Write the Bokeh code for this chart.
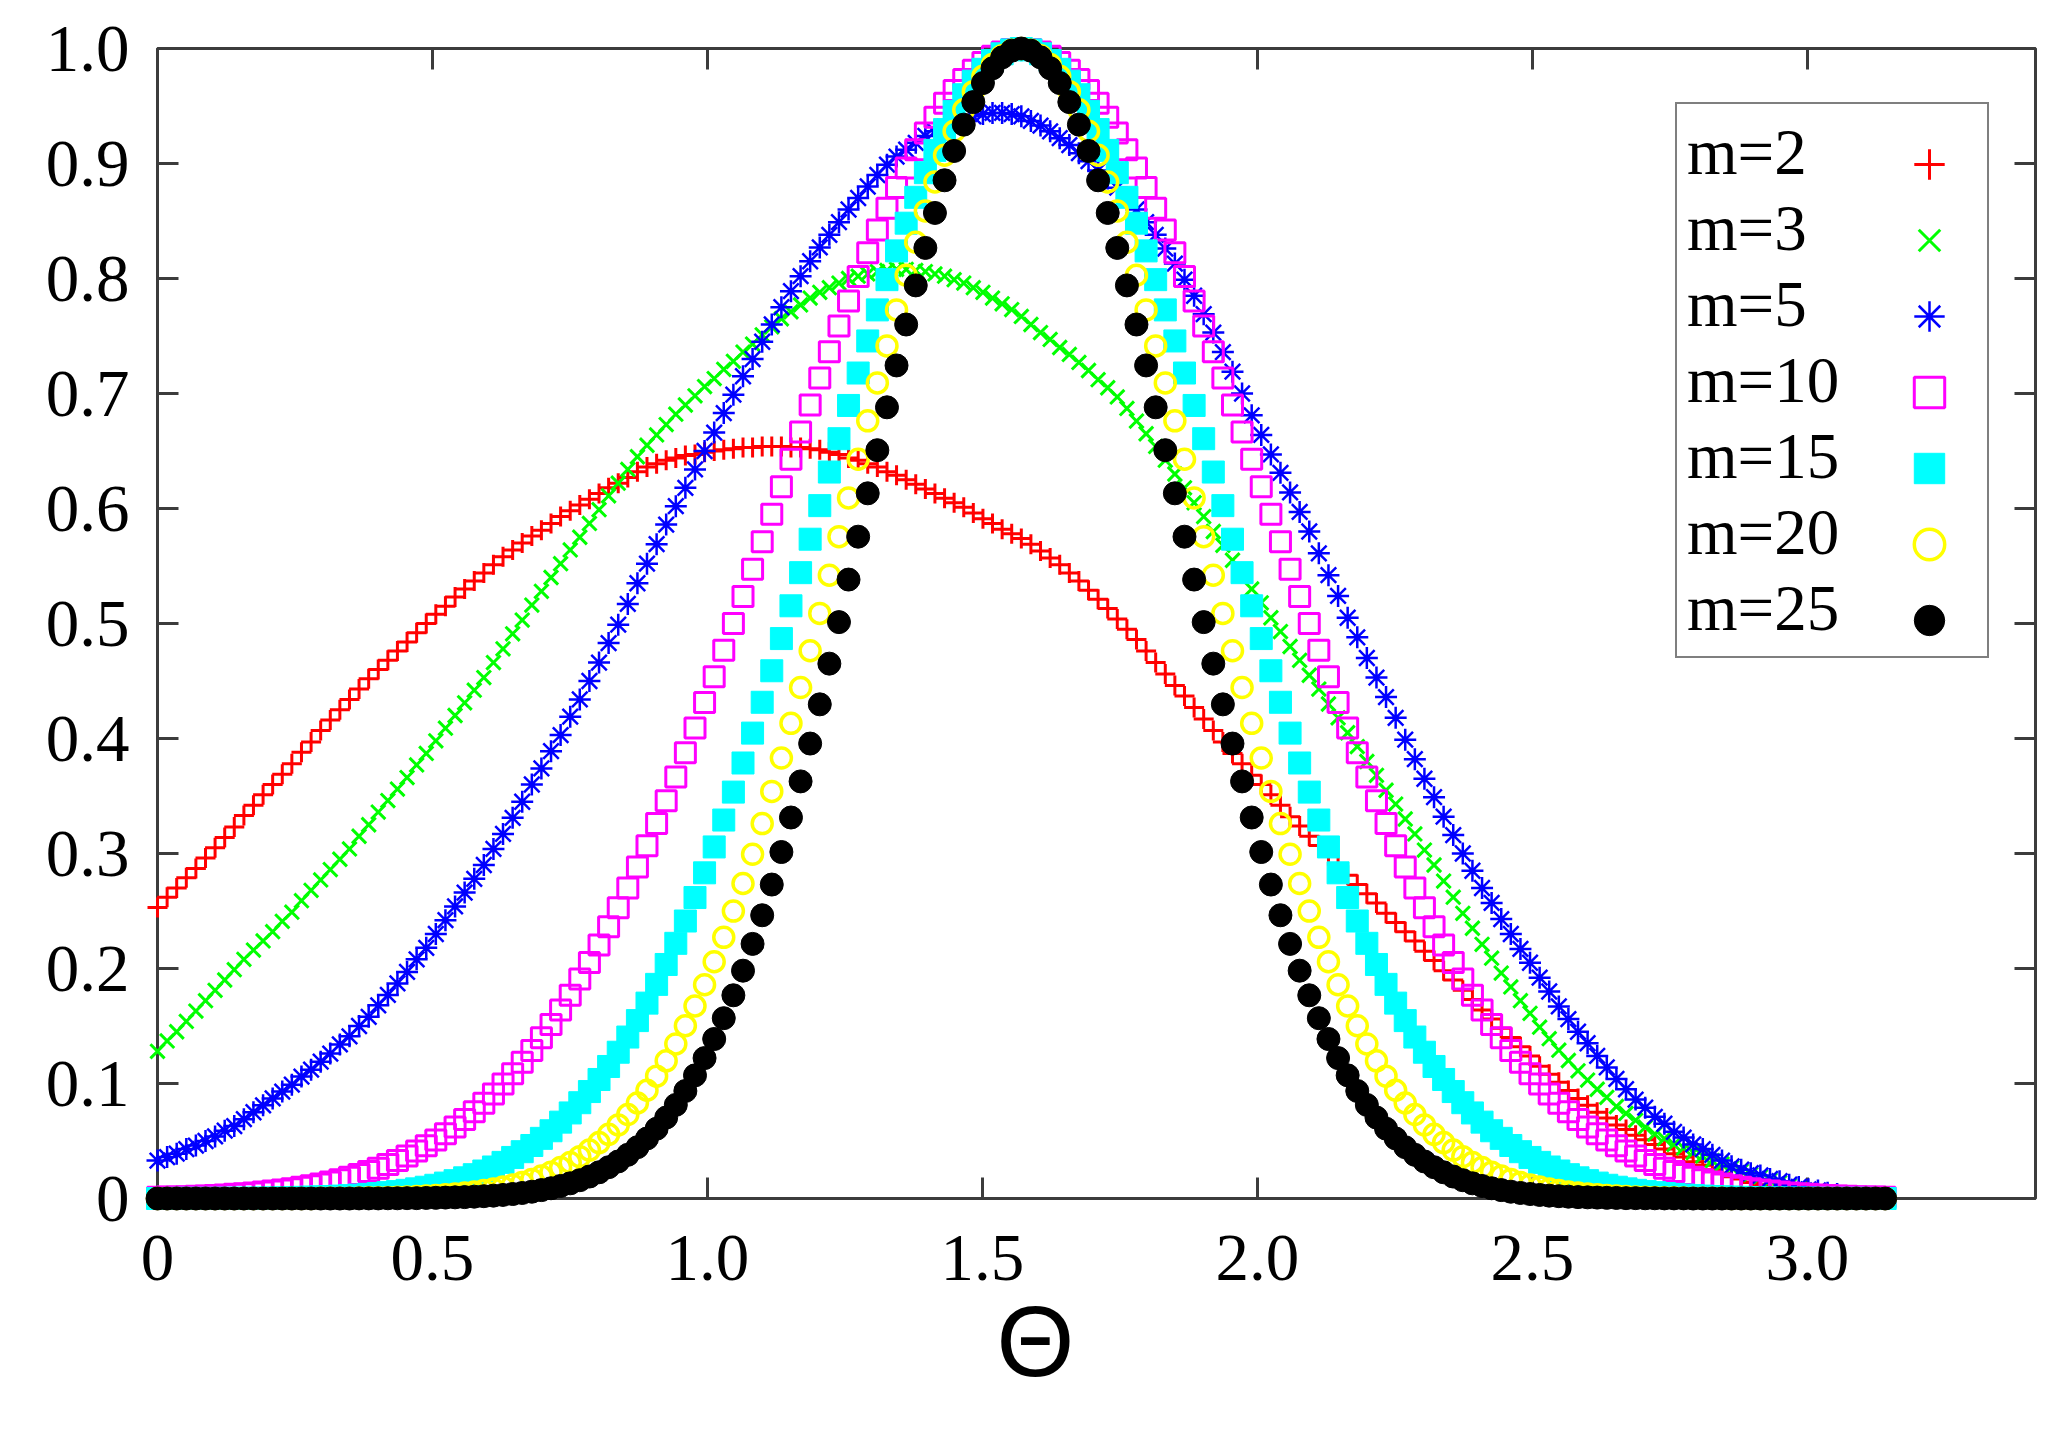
from bokeh.plotting import figure
from bokeh.models import Range1d, LinearAxis, FixedTicker, Legend, LegendItem, Title
from bokeh.embed import file_html
from bokeh.resources import INLINE

# ---------------- data (1 degree steps) ----------------
theta = [
    0.0000, 0.0175, 0.0349, 0.0524, 0.0698, 0.0873, 0.1047, 0.1222, 0.1396, 0.1571,
    0.1745, 0.1920, 0.2094, 0.2269, 0.2443, 0.2618, 0.2793, 0.2967, 0.3142, 0.3316,
    0.3491, 0.3665, 0.3840, 0.4014, 0.4189, 0.4363, 0.4538, 0.4712, 0.4887, 0.5061,
    0.5236, 0.5411, 0.5585, 0.5760, 0.5934, 0.6109, 0.6283, 0.6458, 0.6632, 0.6807,
    0.6981, 0.7156, 0.7330, 0.7505, 0.7679, 0.7854, 0.8029, 0.8203, 0.8378, 0.8552,
    0.8727, 0.8901, 0.9076, 0.9250, 0.9425, 0.9599, 0.9774, 0.9948, 1.0123, 1.0297,
    1.0472, 1.0647, 1.0821, 1.0996, 1.1170, 1.1345, 1.1519, 1.1694, 1.1868, 1.2043,
    1.2217, 1.2392, 1.2566, 1.2741, 1.2915, 1.3090, 1.3265, 1.3439, 1.3614, 1.3788,
    1.3963, 1.4137, 1.4312, 1.4486, 1.4661, 1.4835, 1.5010, 1.5184, 1.5359, 1.5533,
    1.5708, 1.5882, 1.6057, 1.6232, 1.6406, 1.6581, 1.6755, 1.6930, 1.7104, 1.7279,
    1.7453, 1.7628, 1.7802, 1.7977, 1.8151, 1.8326, 1.8500, 1.8675, 1.8850, 1.9024,
    1.9199, 1.9373, 1.9548, 1.9722, 1.9897, 2.0071, 2.0246, 2.0420, 2.0595, 2.0769,
    2.0944, 2.1118, 2.1293, 2.1468, 2.1642, 2.1817, 2.1991, 2.2166, 2.2340, 2.2515,
    2.2689, 2.2864, 2.3038, 2.3213, 2.3387, 2.3562, 2.3736, 2.3911, 2.4086, 2.4260,
    2.4435, 2.4609, 2.4784, 2.4958, 2.5133, 2.5307, 2.5482, 2.5656, 2.5831, 2.6005,
    2.6180, 2.6354, 2.6529, 2.6704, 2.6878, 2.7053, 2.7227, 2.7402, 2.7576, 2.7751,
    2.7925, 2.8100, 2.8274, 2.8449, 2.8623, 2.8798, 2.8972, 2.9147, 2.9322, 2.9496,
    2.9671, 2.9845, 3.0020, 3.0194, 3.0369, 3.0543, 3.0718, 3.0892, 3.1067, 3.1241,
    3.1416,
]

m2 = [
    0.253, 0.262, 0.270, 0.279, 0.287, 0.296, 0.305, 0.314, 0.323, 0.333,
    0.342, 0.351, 0.360, 0.369, 0.378, 0.388, 0.397, 0.407, 0.416, 0.425,
    0.434, 0.443, 0.452, 0.460, 0.468, 0.476, 0.484, 0.492, 0.500, 0.508,
    0.515, 0.523, 0.530, 0.537, 0.544, 0.551, 0.558, 0.564, 0.570, 0.576,
    0.581, 0.587, 0.593, 0.598, 0.603, 0.608, 0.613, 0.618, 0.622, 0.627,
    0.632, 0.636, 0.639, 0.642, 0.644, 0.646, 0.647, 0.649, 0.650, 0.651,
    0.652, 0.653, 0.653, 0.654, 0.654, 0.654, 0.653, 0.653, 0.652, 0.651,
    0.649, 0.647, 0.644, 0.642, 0.639, 0.636, 0.632, 0.629, 0.625, 0.621,
    0.617, 0.613, 0.609, 0.605, 0.601, 0.596, 0.591, 0.587, 0.582, 0.578,
    0.574, 0.569, 0.563, 0.557, 0.551, 0.544, 0.537, 0.529, 0.521, 0.513,
    0.504, 0.495, 0.486, 0.476, 0.466, 0.456, 0.446, 0.437, 0.427, 0.417,
    0.407, 0.397, 0.387, 0.378, 0.368, 0.360, 0.351, 0.342, 0.332, 0.324,
    0.315, 0.307, 0.298, 0.290, 0.281, 0.273, 0.265, 0.257, 0.248, 0.240,
    0.232, 0.224, 0.215, 0.207, 0.198, 0.190, 0.181, 0.173, 0.164, 0.156,
    0.148, 0.140, 0.132, 0.124, 0.115, 0.108, 0.101, 0.094, 0.087, 0.081,
    0.075, 0.070, 0.064, 0.060, 0.055, 0.051, 0.047, 0.043, 0.039, 0.036,
    0.032, 0.029, 0.025, 0.022, 0.019, 0.017, 0.014, 0.012, 0.010, 0.009,
    0.007, 0.006, 0.004, 0.003, 0.002, 0.002, 0.001, 0.001, 0.000, 0.000,
    0.000,
]

m3 = [
    0.128, 0.137, 0.145, 0.154, 0.163, 0.172, 0.181, 0.190, 0.199, 0.208,
    0.216, 0.224, 0.232, 0.241, 0.249, 0.259, 0.268, 0.277, 0.286, 0.295,
    0.304, 0.315, 0.325, 0.336, 0.346, 0.356, 0.366, 0.377, 0.387, 0.398,
    0.409, 0.420, 0.431, 0.442, 0.453, 0.466, 0.478, 0.491, 0.503, 0.516,
    0.528, 0.540, 0.552, 0.564, 0.575, 0.587, 0.599, 0.611, 0.622, 0.634,
    0.645, 0.655, 0.664, 0.673, 0.682, 0.690, 0.698, 0.706, 0.713, 0.721,
    0.728, 0.736, 0.743, 0.751, 0.758, 0.765, 0.771, 0.777, 0.783, 0.788,
    0.792, 0.796, 0.800, 0.802, 0.804, 0.806, 0.807, 0.808, 0.808, 0.807,
    0.806, 0.804, 0.802, 0.799, 0.796, 0.792, 0.788, 0.783, 0.778, 0.773,
    0.767, 0.760, 0.753, 0.747, 0.740, 0.734, 0.727, 0.720, 0.712, 0.705,
    0.697, 0.687, 0.676, 0.665, 0.654, 0.642, 0.630, 0.618, 0.605, 0.593,
    0.580, 0.568, 0.555, 0.543, 0.530, 0.518, 0.505, 0.493, 0.480, 0.468,
    0.455, 0.443, 0.430, 0.418, 0.405, 0.393, 0.380, 0.368, 0.355, 0.343,
    0.330, 0.317, 0.303, 0.290, 0.276, 0.262, 0.248, 0.235, 0.221, 0.209,
    0.196, 0.184, 0.172, 0.161, 0.149, 0.139, 0.129, 0.120, 0.111, 0.103,
    0.095, 0.088, 0.080, 0.074, 0.068, 0.062, 0.056, 0.052, 0.047, 0.044,
    0.040, 0.037, 0.033, 0.030, 0.027, 0.024, 0.021, 0.019, 0.016, 0.014,
    0.011, 0.009, 0.007, 0.006, 0.004, 0.003, 0.002, 0.002, 0.001, 0.001,
    0.000,
]

m5 = [
    0.033, 0.036, 0.039, 0.043, 0.046, 0.050, 0.054, 0.059, 0.063, 0.069,
    0.075, 0.081, 0.087, 0.093, 0.099, 0.106, 0.112, 0.119, 0.126, 0.134,
    0.141, 0.150, 0.158, 0.168, 0.177, 0.187, 0.197, 0.208, 0.218, 0.230,
    0.242, 0.254, 0.266, 0.278, 0.290, 0.304, 0.317, 0.331, 0.345, 0.360,
    0.374, 0.389, 0.403, 0.419, 0.434, 0.450, 0.466, 0.483, 0.499, 0.517,
    0.535, 0.552, 0.569, 0.586, 0.602, 0.618, 0.634, 0.650, 0.666, 0.683,
    0.699, 0.715, 0.730, 0.745, 0.760, 0.775, 0.789, 0.802, 0.815, 0.827,
    0.838, 0.849, 0.860, 0.870, 0.880, 0.890, 0.899, 0.906, 0.912, 0.918,
    0.924, 0.928, 0.932, 0.935, 0.938, 0.941, 0.943, 0.944, 0.944, 0.943,
    0.941, 0.937, 0.933, 0.928, 0.922, 0.916, 0.909, 0.902, 0.894, 0.887,
    0.879, 0.870, 0.860, 0.849, 0.838, 0.826, 0.813, 0.799, 0.785, 0.769,
    0.753, 0.736, 0.719, 0.700, 0.681, 0.664, 0.647, 0.631, 0.614, 0.597,
    0.580, 0.561, 0.542, 0.524, 0.505, 0.488, 0.470, 0.453, 0.436, 0.418,
    0.399, 0.382, 0.365, 0.349, 0.332, 0.316, 0.300, 0.285, 0.270, 0.257,
    0.243, 0.230, 0.217, 0.205, 0.192, 0.180, 0.167, 0.156, 0.145, 0.135,
    0.124, 0.114, 0.104, 0.095, 0.086, 0.079, 0.071, 0.065, 0.058, 0.053,
    0.047, 0.043, 0.038, 0.033, 0.028, 0.025, 0.022, 0.020, 0.017, 0.015,
    0.012, 0.010, 0.008, 0.007, 0.005, 0.004, 0.002, 0.002, 0.001, 0.001,
    0.000,
]

m10 = [
    0.0010, 0.0012, 0.0014, 0.0016, 0.0019, 0.0022, 0.0026, 0.0031, 0.0036, 0.0042,
    0.0048, 0.0056, 0.0065, 0.0074, 0.0085, 0.0097, 0.0111, 0.0127, 0.0144, 0.0163,
    0.0185, 0.0209, 0.0235, 0.0264, 0.0296, 0.0331, 0.0370, 0.0412, 0.0458, 0.0508,
    0.0563, 0.0622, 0.0686, 0.0754, 0.0829, 0.0908, 0.0995, 0.1085, 0.1184, 0.1286,
    0.1398, 0.1514, 0.1639, 0.1768, 0.1908, 0.2052, 0.2204, 0.2362, 0.2529, 0.2701,
    0.2882, 0.3067, 0.3261, 0.3459, 0.3666, 0.3876, 0.4092, 0.4312, 0.4538, 0.4767,
    0.4999, 0.5234, 0.5471, 0.5710, 0.5950, 0.6189, 0.6428, 0.6666, 0.6901, 0.7134,
    0.7362, 0.7587, 0.7805, 0.8018, 0.8223, 0.8421, 0.8611, 0.8791, 0.8960, 0.9119,
    0.9266, 0.9402, 0.9525, 0.9634, 0.9730, 0.9811, 0.9879, 0.9932, 0.9969, 0.9992,
    1.0000,
    0.9992, 0.9969, 0.9932, 0.9879, 0.9811, 0.9730, 0.9634, 0.9525, 0.9402, 0.9266,
    0.9119, 0.8960, 0.8791, 0.8611, 0.8421, 0.8223, 0.8018, 0.7805, 0.7587, 0.7362,
    0.7134, 0.6901, 0.6666, 0.6428, 0.6189, 0.5950, 0.5710, 0.5471, 0.5234, 0.4999,
    0.4767, 0.4538, 0.4312, 0.4092, 0.3876, 0.3666, 0.3459, 0.3261, 0.3067, 0.2882,
    0.2701, 0.2529, 0.2362, 0.2204, 0.2052, 0.1908, 0.1768, 0.1639, 0.1514, 0.1398,
    0.1286, 0.1184, 0.1085, 0.0995, 0.0908, 0.0829, 0.0754, 0.0686, 0.0622, 0.0563,
    0.0508, 0.0458, 0.0412, 0.0370, 0.0331, 0.0296, 0.0264, 0.0235, 0.0209, 0.0185,
    0.0163, 0.0144, 0.0127, 0.0111, 0.0097, 0.0085, 0.0074, 0.0065, 0.0056, 0.0048,
    0.0042, 0.0036, 0.0031, 0.0026, 0.0022, 0.0019, 0.0016, 0.0014, 0.0012, 0.0010,
]

m15 = [
    0.0000, 0.0000, 0.0001, 0.0001, 0.0001, 0.0001, 0.0001, 0.0002, 0.0002, 0.0003,
    0.0003, 0.0004, 0.0005, 0.0006, 0.0008, 0.0010, 0.0012, 0.0014, 0.0017, 0.0021,
    0.0025, 0.0030, 0.0036, 0.0043, 0.0051, 0.0060, 0.0071, 0.0084, 0.0098, 0.0115,
    0.0134, 0.0155, 0.0180, 0.0207, 0.0239, 0.0274, 0.0314, 0.0357, 0.0407, 0.0461,
    0.0523, 0.0589, 0.0664, 0.0744, 0.0833, 0.0930, 0.1035, 0.1148, 0.1272, 0.1404,
    0.1547, 0.1699, 0.1862, 0.2035, 0.2219, 0.2413, 0.2617, 0.2832, 0.3057, 0.3291,
    0.3534, 0.3787, 0.4047, 0.4315, 0.4589, 0.4869, 0.5154, 0.5442, 0.5733, 0.6025,
    0.6317, 0.6607, 0.6896, 0.7178, 0.7457, 0.7727, 0.7990, 0.8240, 0.8481, 0.8706,
    0.8920, 0.9114, 0.9295, 0.9453, 0.9598, 0.9716, 0.9819, 0.9895, 0.9954, 0.9988,
    1.0000,
    0.9988, 0.9954, 0.9895, 0.9819, 0.9716, 0.9598, 0.9453, 0.9295, 0.9114, 0.8920,
    0.8706, 0.8481, 0.8240, 0.7990, 0.7727, 0.7457, 0.7178, 0.6896, 0.6607, 0.6317,
    0.6025, 0.5733, 0.5442, 0.5154, 0.4869, 0.4589, 0.4315, 0.4047, 0.3787, 0.3534,
    0.3291, 0.3057, 0.2832, 0.2617, 0.2413, 0.2219, 0.2035, 0.1862, 0.1699, 0.1547,
    0.1404, 0.1272, 0.1148, 0.1035, 0.0930, 0.0833, 0.0744, 0.0664, 0.0589, 0.0523,
    0.0461, 0.0407, 0.0357, 0.0314, 0.0274, 0.0239, 0.0207, 0.0180, 0.0155, 0.0134,
    0.0115, 0.0098, 0.0084, 0.0071, 0.0060, 0.0051, 0.0043, 0.0036, 0.0030, 0.0025,
    0.0021, 0.0017, 0.0014, 0.0012, 0.0010, 0.0008, 0.0006, 0.0005, 0.0004, 0.0003,
    0.0003, 0.0002, 0.0002, 0.0001, 0.0001, 0.0001, 0.0001, 0.0001, 0.0000, 0.0000,
]

m20 = [
    0.0000, 0.0000, 0.0000, 0.0000, 0.0000, 0.0000, 0.0000, 0.0000, 0.0000, 0.0000,
    0.0000, 0.0000, 0.0000, 0.0001, 0.0001, 0.0001, 0.0001, 0.0002, 0.0002, 0.0003,
    0.0003, 0.0004, 0.0006, 0.0007, 0.0009, 0.0011, 0.0014, 0.0017, 0.0021, 0.0026,
    0.0032, 0.0039, 0.0047, 0.0057, 0.0069, 0.0083, 0.0099, 0.0118, 0.0140, 0.0166,
    0.0195, 0.0229, 0.0269, 0.0313, 0.0364, 0.0421, 0.0486, 0.0558, 0.0640, 0.0730,
    0.0831, 0.0941, 0.1064, 0.1197, 0.1344, 0.1502, 0.1674, 0.1859, 0.2059, 0.2271,
    0.2499, 0.2739, 0.2993, 0.3260, 0.3540, 0.3830, 0.4132, 0.4443, 0.4763, 0.5088,
    0.5420, 0.5755, 0.6092, 0.6428, 0.6762, 0.7092, 0.7414, 0.7727, 0.8028, 0.8315,
    0.8587, 0.8839, 0.9072, 0.9281, 0.9467, 0.9625, 0.9759, 0.9861, 0.9938, 0.9985,
    1.0000,
    0.9985, 0.9938, 0.9861, 0.9759, 0.9625, 0.9467, 0.9281, 0.9072, 0.8839, 0.8587,
    0.8315, 0.8028, 0.7727, 0.7414, 0.7092, 0.6762, 0.6428, 0.6092, 0.5755, 0.5420,
    0.5088, 0.4763, 0.4443, 0.4132, 0.3830, 0.3540, 0.3260, 0.2993, 0.2739, 0.2499,
    0.2271, 0.2059, 0.1859, 0.1674, 0.1502, 0.1344, 0.1197, 0.1064, 0.0941, 0.0831,
    0.0730, 0.0640, 0.0558, 0.0486, 0.0421, 0.0364, 0.0313, 0.0269, 0.0229, 0.0195,
    0.0166, 0.0140, 0.0118, 0.0099, 0.0083, 0.0069, 0.0057, 0.0047, 0.0039, 0.0032,
    0.0026, 0.0021, 0.0017, 0.0014, 0.0011, 0.0009, 0.0007, 0.0006, 0.0004, 0.0003,
    0.0003, 0.0002, 0.0002, 0.0001, 0.0001, 0.0001, 0.0001, 0.0000, 0.0000, 0.0000,
    0.0000, 0.0000, 0.0000, 0.0000, 0.0000, 0.0000, 0.0000, 0.0000, 0.0000, 0.0000,
]

m25 = [
    0.0000, 0.0000, 0.0000, 0.0000, 0.0000, 0.0000, 0.0000, 0.0000, 0.0000, 0.0000,
    0.0000, 0.0000, 0.0000, 0.0000, 0.0000, 0.0000, 0.0000, 0.0000, 0.0000, 0.0000,
    0.0000, 0.0001, 0.0001, 0.0001, 0.0002, 0.0002, 0.0003, 0.0003, 0.0005, 0.0006,
    0.0008, 0.0010, 0.0012, 0.0016, 0.0020, 0.0025, 0.0031, 0.0039, 0.0048, 0.0059,
    0.0073, 0.0089, 0.0109, 0.0132, 0.0159, 0.0191, 0.0228, 0.0272, 0.0322, 0.0380,
    0.0446, 0.0522, 0.0607, 0.0704, 0.0814, 0.0935, 0.1071, 0.1221, 0.1387, 0.1568,
    0.1767, 0.1981, 0.2214, 0.2463, 0.2730, 0.3013, 0.3313, 0.3627, 0.3956, 0.4297,
    0.4651, 0.5012, 0.5382, 0.5755, 0.6132, 0.6507, 0.6880, 0.7244, 0.7600, 0.7940,
    0.8266, 0.8570, 0.8854, 0.9109, 0.9338, 0.9534, 0.9700, 0.9828, 0.9923, 0.9981,
    1.0000,
    0.9981, 0.9923, 0.9828, 0.9700, 0.9534, 0.9338, 0.9109, 0.8854, 0.8570, 0.8266,
    0.7940, 0.7600, 0.7244, 0.6880, 0.6507, 0.6132, 0.5755, 0.5382, 0.5012, 0.4651,
    0.4297, 0.3956, 0.3627, 0.3313, 0.3013, 0.2730, 0.2463, 0.2214, 0.1981, 0.1767,
    0.1568, 0.1387, 0.1221, 0.1071, 0.0935, 0.0814, 0.0704, 0.0607, 0.0522, 0.0446,
    0.0380, 0.0322, 0.0272, 0.0228, 0.0191, 0.0159, 0.0132, 0.0109, 0.0089, 0.0073,
    0.0059, 0.0048, 0.0039, 0.0031, 0.0025, 0.0020, 0.0016, 0.0012, 0.0010, 0.0008,
    0.0006, 0.0005, 0.0003, 0.0003, 0.0002, 0.0002, 0.0001, 0.0001, 0.0001, 0.0000,
    0.0000, 0.0000, 0.0000, 0.0000, 0.0000, 0.0000, 0.0000, 0.0000, 0.0000, 0.0000,
    0.0000, 0.0000, 0.0000, 0.0000, 0.0000, 0.0000, 0.0000, 0.0000, 0.0000, 0.0000,
]

series_labels = ["m=2", "m=3", "m=5", "m=10", "m=15", "m=20", "m=25"]

x_ticks = [0, 0.5, 1.0, 1.5, 2.0, 2.5, 3.0]
x_tick_labels = ["0", "0.5", "1.0", "1.5", "2.0", "2.5", "3.0"]
y_ticks = [0, 0.1, 0.2, 0.3, 0.4, 0.5, 0.6, 0.7, 0.8, 0.9, 1.0]
y_tick_labels = ["0", "0.1", "0.2", "0.3", "0.4", "0.5", "0.6", "0.7", "0.8", "0.9", "1.0"]
x_title = "\u0398"

# ---------------- styling ----------------
FRAME = "#3c3c3c"
SERIF = "Liberation Serif"

marker_styles = [
    dict(marker="cross", size=20, line_color="#ff0000", line_width=3),
    dict(marker="x", size=20, line_color="#00ff00", line_width=3),
    dict(marker="asterisk", size=22, line_color="#0000ff", line_width=2.5),
    dict(marker="square", size=20, line_color="#ff00ff", fill_color=None, line_width=3),
    dict(marker="square", size=22, line_color="#00ffff", fill_color="#00ffff", line_width=1),
    dict(marker="circle", size=20, line_color="#ffff00", fill_color=None, line_width=3.5),
    dict(marker="circle", size=23, line_color="#000000", fill_color="#000000", line_width=1),
]

p = figure(width=2050, height=1432, output_backend="svg", toolbar_location=None,
           x_range=Range1d(0, 3.415), y_range=Range1d(0, 1.0),
           min_border_left=157, min_border_right=15, min_border_top=48,
           min_border_bottom=234)
p.background_fill_color = "white"
p.border_fill_color = "white"
p.grid.visible = False
p.outline_line_color = FRAME
p.outline_line_width = 3


def style_axis(ax):
    ax.axis_line_color = None
    ax.major_tick_in = 21
    ax.major_tick_out = 0
    ax.major_tick_line_color = FRAME
    ax.major_tick_line_width = 3
    ax.minor_tick_line_color = None
    ax.major_label_text_font = SERIF
    ax.major_label_text_font_size = "67px"
    ax.major_label_text_color = "black"


xa = p.xaxis[0]
ya = p.yaxis[0]
xa.ticker = FixedTicker(ticks=x_ticks)
xa.major_label_overrides = dict(zip(x_ticks, x_tick_labels))
ya.ticker = FixedTicker(ticks=y_ticks)
ya.major_label_overrides = dict(zip(y_ticks, y_tick_labels))
style_axis(xa)
style_axis(ya)
xa.major_label_standoff = 37
ya.major_label_standoff = 28

# mirrored inward ticks on top and right (gnuplot style), no labels
top_axis = LinearAxis(ticker=FixedTicker(ticks=x_ticks))
right_axis = LinearAxis(ticker=FixedTicker(ticks=y_ticks))
for ax in (top_axis, right_axis):
    style_axis(ax)
    ax.major_label_text_color = None
    ax.major_label_text_font_size = "1px"
    ax.major_label_standoff = 0
p.add_layout(top_axis, "above")
p.add_layout(right_axis, "right")

# x-axis title below the tick labels, a little left of the frame centre as in the reference
p.add_layout(Title(text=x_title, align="left", offset=839, standoff=0,
                   text_font="Liberation Sans", text_font_size="100px",
                   text_font_style="normal", text_color="black"), "below")

series = [m2, m3, m5, m10, m15, m20, m25]
renderers = []
for vals, st in zip(series, marker_styles):
    r = p.scatter(x=theta, y=vals, level="annotation", **st)
    renderers.append(r)

# legend: text column (with box) + marker column to the right of the text
ROW = 76
label_legend = Legend(
    items=[LegendItem(label=lab, renderers=[r]) for lab, r in zip(series_labels, renderers)],
    location=(1518, 540), orientation="vertical",
    glyph_width=0, glyph_height=ROW, label_height=ROW, label_width=290,
    label_standoff=0, spacing=0, padding=10, margin=0,
    label_text_font=SERIF, label_text_font_size="65px", label_text_color="black",
    border_line_color="black", border_line_width=2,
    background_fill_color="white", background_fill_alpha=1.0,
)
marker_legend = Legend(
    items=[LegendItem(label=" ", renderers=[r]) for r in renderers],
    location=(1734, 540), orientation="vertical",
    glyph_width=ROW, glyph_height=ROW, label_height=ROW, label_width=0,
    label_standoff=0, spacing=0, padding=10, margin=0,
    label_text_font=SERIF, label_text_font_size="65px",
    border_line_color=None, background_fill_alpha=0.0,
)
p.add_layout(label_legend, "center")
p.add_layout(marker_legend, "center")

open("out.html", "w").write(file_html(p, INLINE))
